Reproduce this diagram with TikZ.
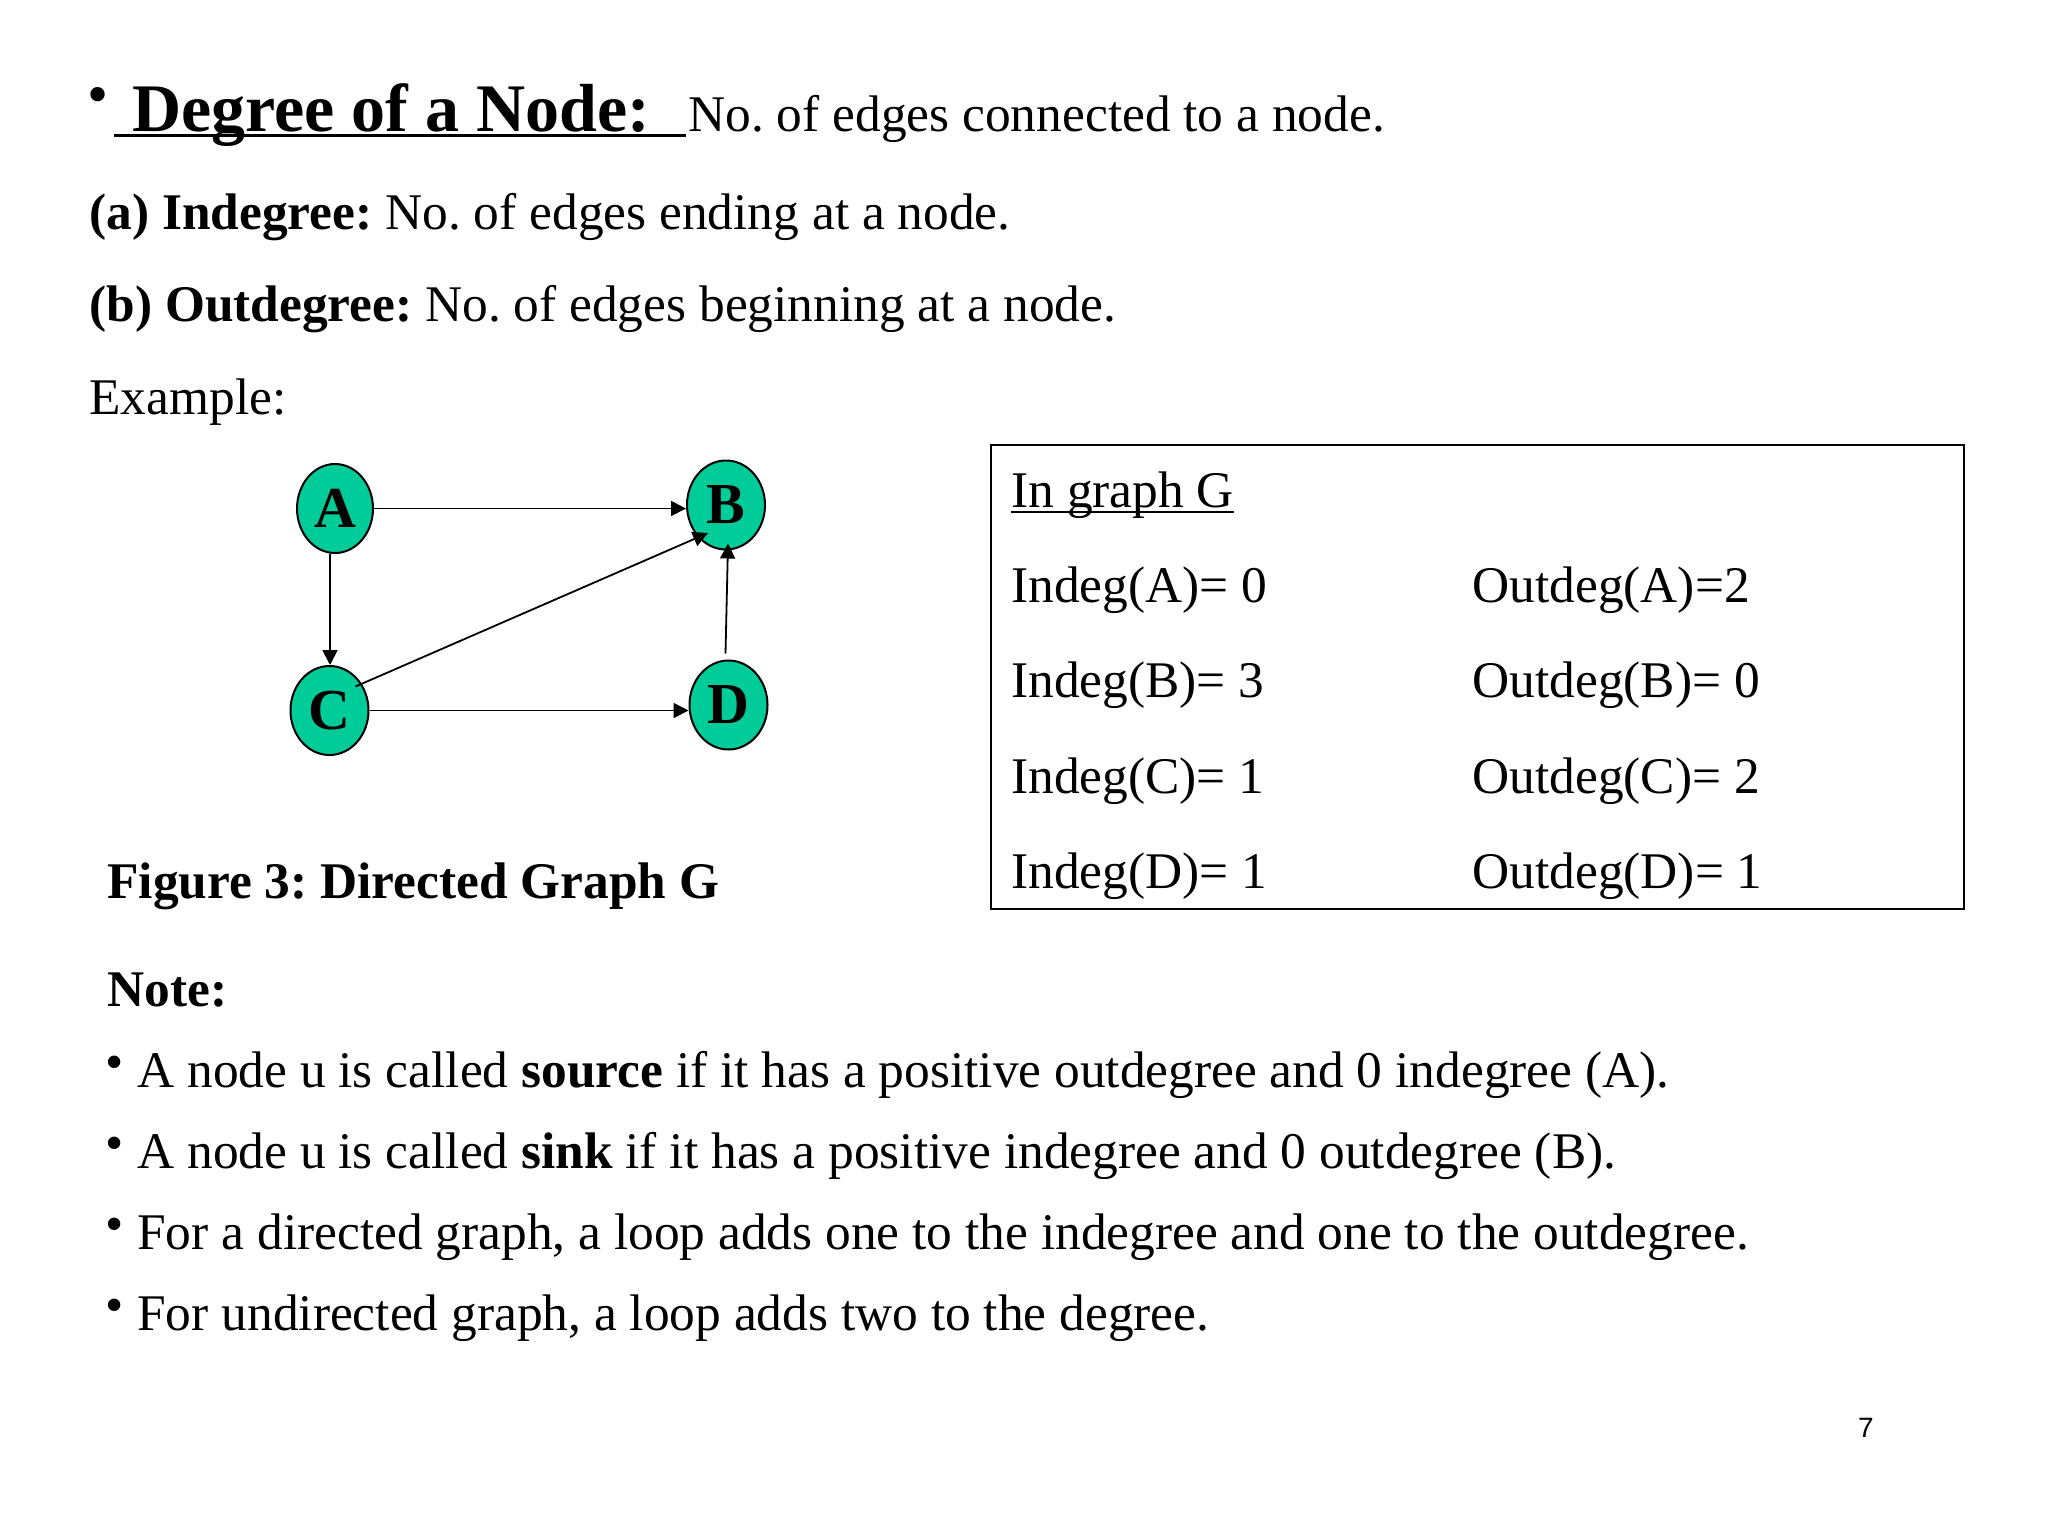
\documentclass[tikz,border=0pt]{standalone}
\usepackage{fontspec}
\setmainfont{Liberation Serif}
\newfontfamily\pgnumfont{Liberation Sans}
\usetikzlibrary{shapes.geometric,arrows.meta}
\definecolor{nodegreen}{RGB}{0,204,153}
\frenchspacing
\begin{document}
\frenchspacing
\begin{tikzpicture}[x=0.5pt,y=-0.5pt,
  txt/.style={anchor=base west, inner sep=0pt, font=\fontsize{25.7}{30}\selectfont},
  btxt/.style={anchor=base west, inner sep=0pt, font=\fontsize{25.7}{30}\selectfont\bfseries},
  ttl/.style={anchor=base west, inner sep=0pt, font=\fontsize{34}{40}\selectfont\bfseries},
  bul/.style={inner sep=0pt, font=\fontsize{26}{28}\selectfont},
  vert/.style={ellipse, draw=black, line width=1pt, fill=nodegreen, minimum width=39pt, minimum height=44.5pt, inner sep=0pt, font=\fontsize{29}{30}\selectfont\bfseries},
  arr/.style={-{Triangle[length=7.5pt,width=7.5pt]}, line width=0.9pt},
  uline/.style={line width=1.2pt}
]
\fill[white] (0,0) rectangle (2048,1536);
\useasboundingbox (0,0) rectangle (2048,1536);

% title
\node[bul, font=\fontsize{30}{32}\selectfont] (tb) at (98,101) {•};
\node[ttl] (title) at (132,132) {Degree of a Node:};
\node[txt] (def) at (688,132) {No. of edges connected to a node.};
\draw[line width=1.5pt] (114,135) -- (686,135);

\node[txt] (ina) at (89,229) {\textbf{(a) Indegree:} No. of edges ending at a node.};
\node[txt] (outb) at (89,321) {\textbf{(b) Outdegree:} No. of edges beginning at a node.};
\node[txt] (ex) at (89,414) {Example:};

% graph
\node[vert, minimum width=38pt] (A) at (335,508.5) {A};
\node[vert] (B) at (726,505) {B};
\node[vert] (C) at (329.5,710.5) {C};
\node[vert] (D) at (728.5,705) {D};

\draw[arr] (A.east) -- (A.east -| B.west);
\draw[arr] (A.south -| 330,0) -- (330,0 |- C.north);
\draw[arr] (C.east) -- (C.east -| D.west);
\draw[arr] ([shift={(-3,-6)}]D.north) -- ([shift={(2,-7)}]B.south);
\draw[arr] ([shift={(26,-24)}]C.center) -- ([shift={(-18,28)}]B.center);

\node[btxt] (cap) at (107,898) {Figure 3: Directed Graph G};

% table
\node[draw, line width=1pt, inner sep=0pt, minimum width=486.5pt, minimum height=232pt, anchor=north west] (tbl) at (990,444) {};
\node[txt] (ig) at (1011,507) {In graph G};
\draw[uline] ([yshift=-2.5pt]ig.base west) -- ([yshift=-2.5pt]ig.base east);
\node[txt] (ia) at (1011,602) {Indeg(A)= 0};
\node[txt] (ib) at (1011,697) {Indeg(B)= 3};
\node[txt] (ic) at (1011,793) {Indeg(C)= 1};
\node[txt] (id) at (1011,888) {Indeg(D)= 1};
\node[txt] (oa) at (1472,602) {Outdeg(A)=2};
\node[txt] (ob) at (1472,697) {Outdeg(B)= 0};
\node[txt] (oc) at (1472,793) {Outdeg(C)= 2};
\node[txt] (od) at (1472,888) {Outdeg(D)= 1};

% notes
\node[btxt] (note) at (107,1006) {Note:};
\node[bul] (b1) at (115,1068) {•};
\node[txt] (n1) at (137,1087) {A node u is called \textbf{source} if it has a positive outdegree and 0 indegree (A).};
\node[bul] (b2) at (115,1149) {•};
\node[txt] (n2) at (137,1168) {A node u is called \textbf{sink} if it has a positive indegree and 0 outdegree (B).};
\node[bul] (b3) at (115,1230) {•};
\node[txt] (n3) at (137,1249) {For a directed graph, a loop adds one to the indegree and one to the outdegree.};
\node[bul] (b4) at (115,1311) {•};
\node[txt] (n4) at (137,1330) {For undirected graph, a loop adds two to the degree.};

\node[inner sep=0pt, font=\pgnumfont\fontsize{14}{16}\selectfont] (pg) at (1866,1428) {7};
\end{tikzpicture}
\end{document}
